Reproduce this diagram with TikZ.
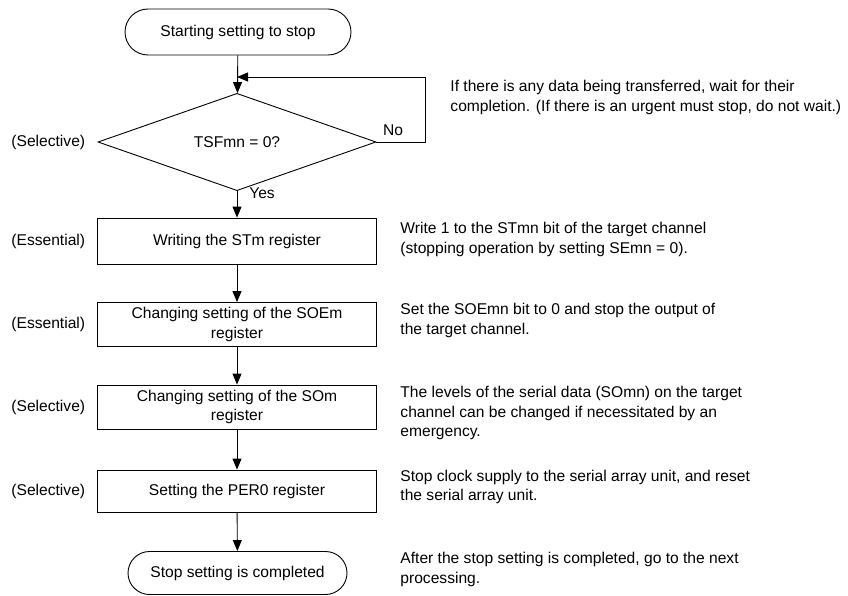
\documentclass[tikz,border=0pt]{standalone}
\usepackage{fontspec}
\setmainfont{Liberation Sans}
\usetikzlibrary{arrows.meta,shapes.geometric,shapes.misc}
\begin{document}
\begin{tikzpicture}[x=1pt,y=-1pt,line width=0.9pt,
	every node/.style={font=\fontsize{15.6}{19.6}\selectfont,inner sep=0pt},
	term/.style={draw,rounded rectangle,minimum height=44pt},
	proc/.style={draw,align=center,minimum width=279pt,minimum height=44pt},
	note/.style={anchor=west,align=left},
	arr/.style={-{Triangle[length=11pt,width=9pt]}}]
	\useasboundingbox (0,0) rectangle (848,596);
	\node[term,minimum width=226pt,minimum height=46pt] (start) at (238,32) {Starting setting to stop};
	\node[draw,diamond,minimum width=278pt,minimum height=76pt] (tsf) at (237,142) {TSFmn = 0?};
	\node[proc,minimum height=46pt] (stm) at (237,241) {Writing the STm register};
	\node[proc] (soem) at (237,324.5) {Changing setting of the SOEm\\register};
	\node[proc] (som) at (237,407) {Changing setting of the SOm\\register};
	\node[proc,minimum height=42pt] (per) at (237,491) {Setting the PER0 register};
	\node[term,minimum width=219pt,minimum height=43pt] (stop) at (237.5,573) {Stop setting is completed};
	\coordinate (join) at (237,77);
	\coordinate (back) at (425,77);
	\node (no) at (393,130) {No};
	\node (yes) at (262,193) {Yes};
	\node[note] (tsfl) at (11,142) {(Selective)};
	\node[note] (stml) at (11,241) {(Essential)};
	\node[note] (soeml) at (11,324.5) {(Essential)};
	\node[note] (soml) at (11,407) {(Selective)};
	\node[note] (perl) at (11,491) {(Selective)};
	\node[note] (tsfn) at (450,97.5) {If there is any data being transferred, wait for their\\completion. (If there is an urgent must stop, do not wait.)};
	\node[note] (stmn) at (400,239.5) {Write 1 to the STmn bit of the target channel\\(stopping operation by setting SEmn = 0).};
	\node[note] (soemn) at (400,320.5) {Set the SOEmn bit to 0 and stop the output of\\the target channel.};
	\node[note] (somn) at (400,413) {The levels of the serial data (SOmn) on the target\\channel can be changed if necessitated by an\\emergency.};
	\node[note] (pern) at (400,487) {Stop clock supply to the serial array unit, and reset\\the serial array unit.};
	\node[note] (stopn) at (400,569.5) {After the stop setting is completed, go to the next\\processing.};
	\draw[arr] (start) -- (tsf);
	\draw[arr] (tsf.east) -| (back) -- (join);
	\draw[arr] (tsf) -- (stm);
	\draw[arr] (stm) -- (soem);
	\draw[arr] (soem) -- (som);
	\draw[arr] (som) -- (per);
	\draw[arr] (per) -- (stop);
\end{tikzpicture}
\end{document}
